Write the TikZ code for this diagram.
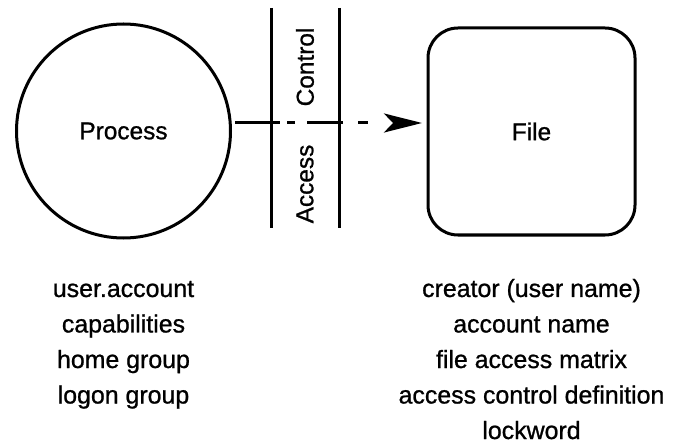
\documentclass[tikz,border=0pt]{standalone}
\usepackage{fontspec}
\setmainfont{Liberation Sans}[FakeBold=0.9]
\usetikzlibrary{arrows.meta}

\begin{document}
\begin{tikzpicture}[x=1bp, y=-1bp, line width=3bp,
    shapetext/.style={font=\fontsize{24.5}{28}\selectfont, inner sep=0pt},
    listtext/.style={font=\fontsize{25}{28}\selectfont, inner sep=0pt, anchor=base}]
    \useasboundingbox (0,0) rectangle (676,445);
    \node (proc) at (123.5,131) [draw, circle, minimum size=214bp, shapetext] {Process};
    \node (file) at (531.5,131.5) [draw, rectangle, rounded corners=30bp, minimum width=207bp, minimum height=207bp, shapetext] {File};

    \coordinate (barL) at (271,8);
    \coordinate (barR) at (339,8);
    \draw (barL) -- ++(0,220);
    \draw (barR) -- ++(0,220);
    \node (ctrl) at (305,67) [rotate=90, shapetext] {Control};
    \node (acc) at (305,184) [rotate=90, shapetext] {Access};

    \coordinate (start) at (235,123);
    \coordinate (tip) at (422,123);
    \draw [dash pattern=on 45bp off 7bp on 8bp off 12bp on 36bp off 15bp on 10bp off 40bp, -{Stealth[length=38bp, width=19bp, inset=9bp]}] (start) -- (tip);

    \foreach \txt [count=\i] in {user.account, capabilities, home group, logon group}
        \node (proc\i) at (123.5, 261.5+35.5*\i) [listtext] {\txt};
    \foreach \txt [count=\i] in {creator (user name), account name, file access matrix, access control definition, lockword}
        \node (file\i) at (531.5, 261.5+35.5*\i) [listtext] {\txt};
\end{tikzpicture}
\end{document}
